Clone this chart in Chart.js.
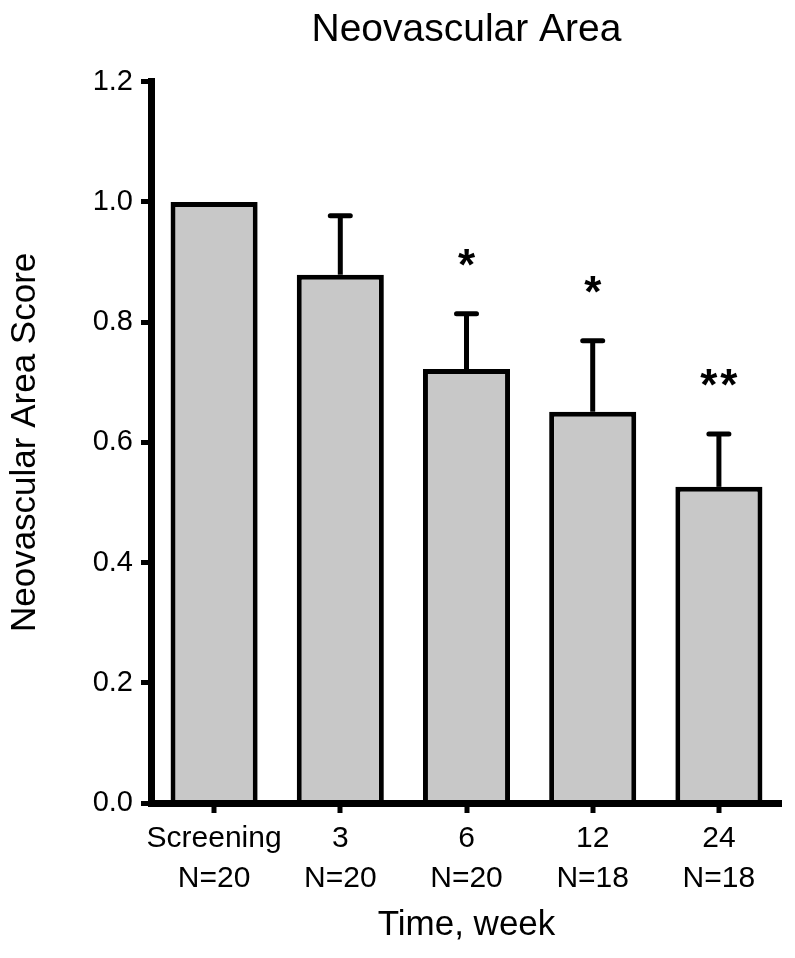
<!DOCTYPE html>
<html>
<head>
<meta charset="utf-8">
<script src="https://cdn.jsdelivr.net/npm/chart.js@4/dist/chart.umd.min.js"></script>
<style>
  html, body { margin: 0; padding: 0; background: #fff; }
  #wrap { width: 795px; height: 958px; }
</style>
</head>
<body>
<div id="wrap"><canvas id="nvChart"></canvas></div>
<script>
// data
const weeks = ['Screening', '3', '6', '12', '24'];
const counts = [20, 20, 20, 18, 18];
const meanScore = [1.0, 0.879, 0.722, 0.651, 0.526];
const semScore = [0, 0.098, 0.092, 0.118, 0.088];
const marks = ['', '', '*', '*', '**'];
const yTicks = [0, 0.2, 0.4, 0.6, 0.8, 1.0, 1.2];

const FONT = "'Liberation Sans', Arial, Helvetica, sans-serif";

// error bars + significance stars
const errorBars = {
    id: 'errorBars',
    afterDatasetsDraw(chart) {
        const { ctx, scales: { y } } = chart;
        const meta = chart.getDatasetMeta(0);
        ctx.save();
        ctx.strokeStyle = '#000';
        ctx.fillStyle = '#000';
        meta.data.forEach((bar, i) => {
            const cx = bar.x;
            const top = y.getPixelForValue(meanScore[i] + semScore[i]);
            if (semScore[i] > 0) {
                ctx.lineWidth = 5;
                ctx.lineCap = 'butt';
                ctx.beginPath();
                ctx.moveTo(cx, y.getPixelForValue(meanScore[i]));
                ctx.lineTo(cx, top);
                ctx.stroke();
                ctx.lineCap = 'round';
                ctx.beginPath();
                ctx.moveTo(cx - 10, top);
                ctx.lineTo(cx + 10, top);
                ctx.stroke();
            }
            if (marks[i]) {
                ctx.font = 'bold 44px ' + FONT;
                ctx.textAlign = 'center';
                ctx.textBaseline = 'alphabetic';
                const n = marks[i].length;
                for (let k = 0; k < n; k++) {
                    ctx.fillText(marks[i][k], cx + (k - (n - 1) / 2) * 20, top - 34);
                }
            }
        });
        ctx.restore();
    }
};

Chart.defaults.color = '#000';
Chart.defaults.font.family = FONT;

new Chart(document.getElementById('nvChart'), {
    type: 'bar',
    data: {
        labels: weeks.map((w, i) => [w, 'N=' + counts[i]]),
        datasets: [{
            data: meanScore,
            backgroundColor: '#c8c8c8',
            borderColor: '#000',
            borderWidth: 5,
            borderSkipped: 'start',
            barPercentage: 0.69,
            categoryPercentage: 1
        }]
    },
    options: {
        responsive: true,
        maintainAspectRatio: false,
        animation: false,
        layout: { padding: { left: 0, right: 13, top: 0, bottom: 0 } },
        plugins: {
            legend: { display: false },
            tooltip: { enabled: false },
            title: {
                display: true,
                text: 'Neovascular Area',
                fullSize: false,
                color: '#000',
                font: { size: 39, weight: 'normal' },
                padding: { top: 7, bottom: 28 }
            }
        },
        scales: {
            x: {
                grid: {
                    offset: false,
                    drawOnChartArea: false,
                    lineWidth: 0,
                    tickLength: 10,
                    tickWidth: 5,
                    tickColor: '#000'
                },
                border: { display: true, color: '#000', width: 7, z: 1 },
                ticks: { font: { size: 30, lineHeight: 1.33 }, padding: 6, maxRotation: 0, autoSkip: false },
                title: {
                    display: true,
                    text: 'Time, week',
                    font: { size: 35 },
                    padding: { top: 0, bottom: 12 }
                },
                afterFit(scale) { scale.height = 155; }
            },
            y: {
                min: 0,
                max: 1.2,
                afterBuildTicks(scale) { scale.ticks = yTicks.map(v => ({ value: v })); },
                grid: {
                    drawOnChartArea: false,
                    lineWidth: 5,
                    tickLength: 10,
                    tickWidth: 5,
                    tickColor: '#000'
                },
                border: { display: true, color: '#000', width: 7, z: 1 },
                ticks: {
                    font: { size: 29 },
                    padding: 8,
                    callback: (v) => Number(v).toFixed(1)
                },
                title: {
                    display: true,
                    text: 'Neovascular Area Score',
                    font: { size: 35 },
                    padding: { top: 4, bottom: 0 }
                },
                afterFit(scale) { scale.width = 151; }
            }
        }
    },
    plugins: [errorBars]
});
</script>
</body>
</html>
